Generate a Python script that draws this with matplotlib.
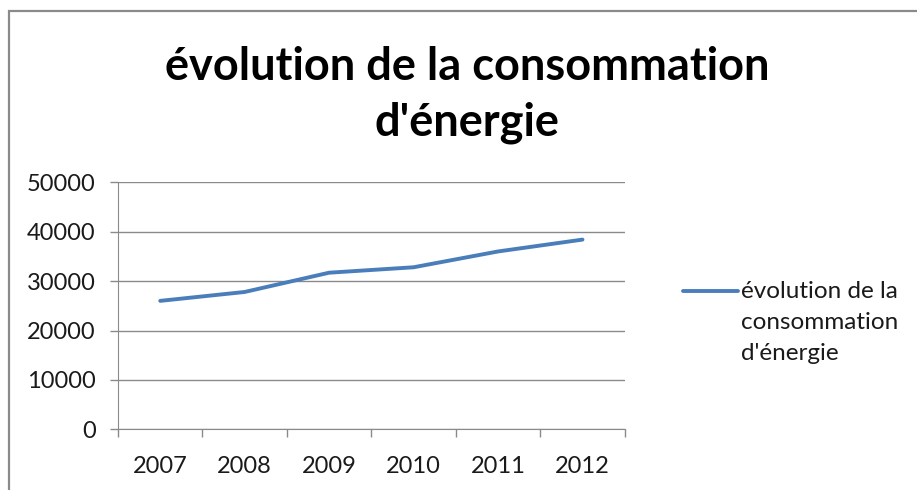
import matplotlib.pyplot as plt
from matplotlib.patches import Rectangle
from matplotlib.lines import Line2D

# data
years = ['2007', '2008', '2009', '2010', '2011', '2012']
consommation = [26000, 27800, 31700, 32800, 36000, 38400]
y_ticks = [0, 10000, 20000, 30000, 40000, 50000]

title = "évolution de la consommation\nd'énergie"
series_name = "évolution de la\nconsommation\nd'énergie"

plt.rcParams['font.family'] = ['Lato', 'DejaVu Sans']
W, H = 917, 490
GREY = '#8a8a8a'
BLUE = '#4a7ebb'

fig = plt.figure(figsize=(W / 100, H / 100), dpi=100)

# outer chart frame (Excel style), only top and left visible
fig.patches.append(Rectangle((9 / W, -0.05), 1.0, 1 - 11 / H + 0.05,
                             transform=fig.transFigure, fill=False,
                             edgecolor=GREY, linewidth=1.6))

ax = fig.add_axes([118 / W, 1 - 429.3 / H, (624.7 - 118) / W, (429.3 - 182.3) / H])
x = [i + 0.5 for i in range(len(years))]
ax.plot(x, consommation, color=BLUE, linewidth=2.8, solid_capstyle='round')

ax.set_xlim(0, len(years))
ax.set_ylim(0, 50000)
ax.set_yticks(y_ticks)
ax.set_yticklabels([str(v) for v in y_ticks], fontsize=17, color='#1a1a1a')
ax.set_xticks(range(len(years) + 1))
ax.set_xticklabels([])
ax.set_xticks(x, minor=True)
ax.set_xticklabels(years, minor=True, fontsize=17, color='#1a1a1a')
ax.tick_params(axis='x', which='minor', length=0, pad=19)
ax.tick_params(axis='x', which='major', length=6, color=GREY, width=1)
ax.tick_params(axis='y', length=6, color=GREY, width=1, pad=10)

ax.grid(axis='y', color=GREY, linewidth=1)
ax.set_axisbelow(True)
for side in ['top', 'right']:
    ax.spines[side].set_visible(False)
for side in ['left', 'bottom']:
    ax.spines[side].set_color(GREY)

fig.text(467 / W, 1 - 95 / H, title, ha='center', va='center', fontsize=32.5,
         fontweight='bold', linespacing=1.42)

# legend drawn by hand so the key sits on the first text line
fig.add_artist(Line2D([683 / W, 738 / W], [1 - 291 / H, 1 - 291 / H],
                      transform=fig.transFigure, color=BLUE, linewidth=2.8,
                      solid_capstyle='round'))
fig.text(741 / W, 1 - 281 / H, series_name, ha='left', va='top', fontsize=17.5,
         color='#1a1a1a', linespacing=1.6)

fig.savefig('out.png', dpi=100)
